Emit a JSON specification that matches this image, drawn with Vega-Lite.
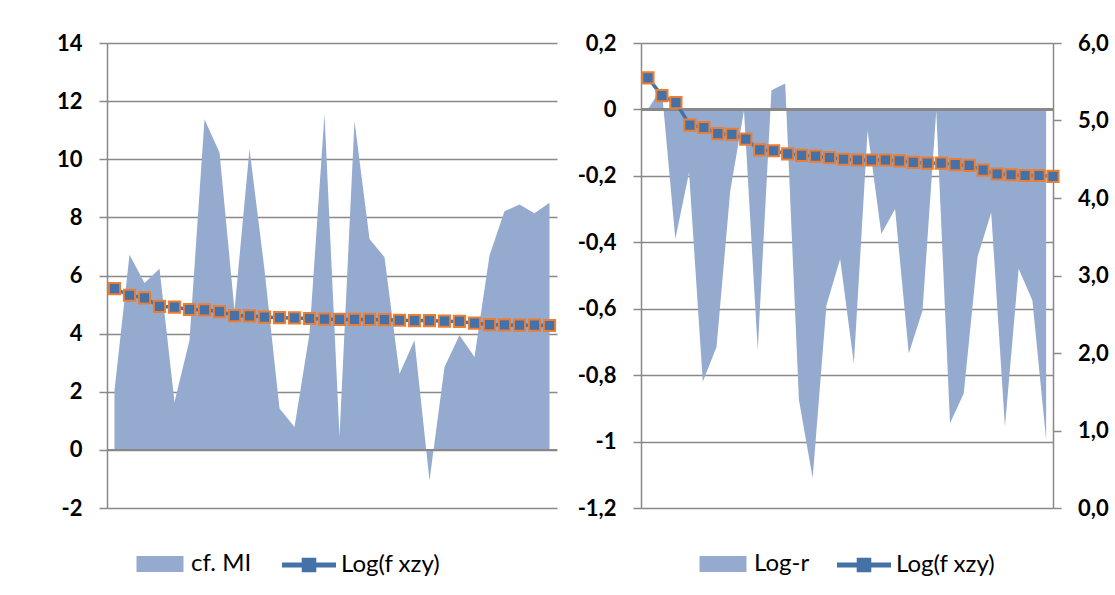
{
  "$schema": "https://vega.github.io/schema/vega-lite/v6.json",
  "background": "white",
  "padding": {"left": 56, "top": 32, "right": 0, "bottom": 0},
  "autosize": {"type": "pad"},
  "config": {
    "view": {"stroke": null},
    "font": "Lato",
    "axis": {
      "domainColor": "#898989", "domainWidth": 1.5,
      "tickColor": "#898989", "tickWidth": 1.5, "tickSize": 8,
      "gridColor": "#898989", "gridWidth": 1.5,
      "labelFont": "Lato", "labelFontSize": 22, "labelFontWeight": "bold", "labelColor": "#000000",
      "labelPadding": 17, "labelFlush": false, "labelOverlap": false, "labelBound": false
    },
    "legend": {
      "orient": "none", "direction": "horizontal", "padding": 0,
      "symbolSize": 2916, "symbolOpacity": 1,
      "labelFont": "Lato", "labelFontSize": 24, "labelFontWeight": "normal", "labelColor": "#000000",
      "labelOffset": 4, "labelLimit": 300
    }
  },
  "datasets": {
    "d": [
      {"i": 1, "mi": 2.05, "logr": 0.0, "logf": 5.55},
      {"i": 2, "mi": 6.71, "logr": 0.065, "logf": 5.32},
      {"i": 3, "mi": 5.74, "logr": -0.39, "logf": 5.23},
      {"i": 4, "mi": 6.23, "logr": -0.19, "logf": 4.94},
      {"i": 5, "mi": 1.65, "logr": -0.82, "logf": 4.91},
      {"i": 6, "mi": 3.77, "logr": -0.715, "logf": 4.83},
      {"i": 7, "mi": 11.38, "logr": -0.245, "logf": 4.82},
      {"i": 8, "mi": 10.23, "logr": -0.003, "logf": 4.76},
      {"i": 9, "mi": 4.8, "logr": -0.725, "logf": 4.62},
      {"i": 10, "mi": 10.35, "logr": 0.058, "logf": 4.61},
      {"i": 11, "mi": 6.2, "logr": 0.078, "logf": 4.57},
      {"i": 12, "mi": 1.42, "logr": -0.875, "logf": 4.55},
      {"i": 13, "mi": 0.79, "logr": -1.11, "logf": 4.54},
      {"i": 14, "mi": 4.0, "logr": -0.59, "logf": 4.52},
      {"i": 15, "mi": 11.55, "logr": -0.45, "logf": 4.5},
      {"i": 16, "mi": 0.45, "logr": -0.765, "logf": 4.49},
      {"i": 17, "mi": 11.32, "logr": -0.064, "logf": 4.49},
      {"i": 18, "mi": 7.26, "logr": -0.375, "logf": 4.49},
      {"i": 19, "mi": 6.63, "logr": -0.3, "logf": 4.48},
      {"i": 20, "mi": 2.62, "logr": -0.735, "logf": 4.46},
      {"i": 21, "mi": 3.77, "logr": -0.605, "logf": 4.45},
      {"i": 22, "mi": -1.05, "logr": -0.004, "logf": 4.45},
      {"i": 23, "mi": 2.85, "logr": -0.945, "logf": 4.43},
      {"i": 24, "mi": 3.94, "logr": -0.855, "logf": 4.42},
      {"i": 25, "mi": 3.2, "logr": -0.445, "logf": 4.36},
      {"i": 26, "mi": 6.69, "logr": -0.31, "logf": 4.31},
      {"i": 27, "mi": 8.21, "logr": -0.955, "logf": 4.3},
      {"i": 28, "mi": 8.44, "logr": -0.48, "logf": 4.29},
      {"i": 29, "mi": 8.14, "logr": -0.575, "logf": 4.29},
      {"i": 30, "mi": 8.5, "logr": -0.995, "logf": 4.28}
    ]
  },
  "bounds": "flush",
  "spacing": 84,
  "resolve": {"scale": {"fill": "independent", "opacity": "independent"}, "legend": {"fill": "independent", "opacity": "independent"}},
  "hconcat": [
    {
      "width": 450,
      "height": 465,
      "data": {"name": "d"},
      "layer": [
        {
          "mark": {"type": "area", "opacity": 1},
          "encoding": {
            "x": {"field": "i", "type": "quantitative", "scale": {"domain": [0.5, 30.5], "nice": false}, "axis": null},
            "y": {"field": "mi", "type": "quantitative", "scale": {"domain": [-2, 14], "nice": false},
              "axis": {"orient": "left", "title": null, "grid": true, "values": [-2, 0, 2, 4, 6, 8, 10, 12, 14], "labelExpr": "replace(toString(datum.value), '.', ',')"}},
            "fill": {"datum": "cf. MI", "type": "nominal",
              "scale": {"domain": ["cf. MI"], "range": ["#95AACF"]},
              "legend": {"title": null, "legendX": 26, "legendY": 494,
                "symbolType": "M-0.87,-0.3H0.87V0.3H-0.87Z", "symbolStrokeWidth": 0}}
          }
        },
        {
          "mark": {"type": "rule", "color": "#898989", "strokeWidth": 1.5},
          "encoding": {"y": {"datum": 0}}
        },
        {
          "mark": {"type": "line", "color": "#4472A8", "strokeWidth": 3.5},
          "encoding": {
            "x": {"field": "i", "type": "quantitative"},
            "y": {"field": "logf", "type": "quantitative"}
          }
        },
        {
          "mark": {"type": "point", "shape": "square", "filled": true, "size": 125, "fill": "#4472A8", "stroke": "#ED7D31", "strokeWidth": 2},
          "encoding": {
            "x": {"field": "i", "type": "quantitative"},
            "y": {"field": "logf", "type": "quantitative"},
            "opacity": {"datum": "Log(f xzy)", "type": "nominal",
              "scale": {"type": "ordinal", "domain": ["Log(f xzy)"], "range": [1]},
              "legend": {"title": null, "legendX": 174, "legendY": 494,
                "symbolType": "M-1,-0.09H-0.27V-0.27H0.27V-0.09H1V0.09H0.27V0.27H-0.27V0.09H-1Z",
                "symbolFillColor": "#4472A8",
                "symbolStrokeColor": {"gradient": "linear", "x1": 0, "y1": 0, "x2": 1, "y2": 0, "stops": [{"offset": 0, "color": "#4472A8"}, {"offset": 0.35, "color": "#4472A8"}, {"offset": 0.35, "color": "#ED7D31"}, {"offset": 0.65, "color": "#ED7D31"}, {"offset": 0.65, "color": "#4472A8"}, {"offset": 1, "color": "#4472A8"}]},
                "symbolStrokeWidth": 1.5}}
          }
        }
      ]
    },
    {
      "width": 412,
      "height": 465,
      "data": {"name": "d"},
      "resolve": {"scale": {"x": "independent", "y": "independent"}},
      "layer": [
        {
          "layer": [
            {
              "mark": {"type": "area", "opacity": 1},
              "encoding": {
                "x": {"field": "i", "type": "quantitative", "scale": {"domain": [0.5, 30.5], "nice": false}, "axis": null},
                "y": {"field": "logr", "type": "quantitative", "scale": {"domain": [-1.2, 0.2], "nice": false},
                  "axis": {"orient": "left", "title": null, "grid": true, "values": [-1.2, -1, -0.8, -0.6, -0.4, -0.2, 0, 0.2], "labelExpr": "replace(toString(datum.value), '.', ',')"}},
                "fill": {"datum": "Log-r", "type": "nominal",
                  "scale": {"domain": ["Log-r"], "range": ["#95AACF"]},
                  "legend": {"title": null, "legendX": 55, "legendY": 494,
                    "symbolType": "M-0.87,-0.3H0.87V0.3H-0.87Z", "symbolStrokeWidth": 0}}
              }
            },
            {
              "mark": {"type": "rule", "color": "#898989", "strokeWidth": 1.5},
              "encoding": {"y": {"datum": 0}}
            }
          ]
        },
        {
          "layer": [
            {
              "mark": {"type": "line", "color": "#4472A8", "strokeWidth": 3.5},
              "encoding": {
                "x": {"field": "i", "type": "quantitative", "scale": {"domain": [0.5, 30], "nice": false}, "axis": null},
                "y": {"field": "logf", "type": "quantitative", "scale": {"domain": [0, 6], "nice": false},
                  "axis": {"orient": "right", "title": null, "grid": false, "values": [0, 1, 2, 3, 4, 5, 6], "labelPadding": 16.6, "labelExpr": "replace(format(datum.value, '.1f'), '.', ',')"}}
              }
            },
            {
              "mark": {"type": "point", "shape": "square", "filled": true, "size": 125, "fill": "#4472A8", "stroke": "#ED7D31", "strokeWidth": 2},
              "encoding": {
                "x": {"field": "i", "type": "quantitative"},
                "y": {"field": "logf", "type": "quantitative"},
                "opacity": {"datum": "Log(f xzy)", "type": "nominal",
                  "scale": {"type": "ordinal", "domain": ["Log(f xzy)"], "range": [1]},
                  "legend": {"title": null, "legendX": 195, "legendY": 494,
                    "symbolType": "M-1,-0.09H-0.27V-0.27H0.27V-0.09H1V0.09H0.27V0.27H-0.27V0.09H-1Z",
                    "symbolFillColor": "#4472A8",
                    "symbolStrokeColor": {"gradient": "linear", "x1": 0, "y1": 0, "x2": 1, "y2": 0, "stops": [{"offset": 0, "color": "#4472A8"}, {"offset": 0.35, "color": "#4472A8"}, {"offset": 0.35, "color": "#ED7D31"}, {"offset": 0.65, "color": "#ED7D31"}, {"offset": 0.65, "color": "#4472A8"}, {"offset": 1, "color": "#4472A8"}]},
                    "symbolStrokeWidth": 1.5}}
              }
            }
          ]
        }
      ]
    }
  ]
}
